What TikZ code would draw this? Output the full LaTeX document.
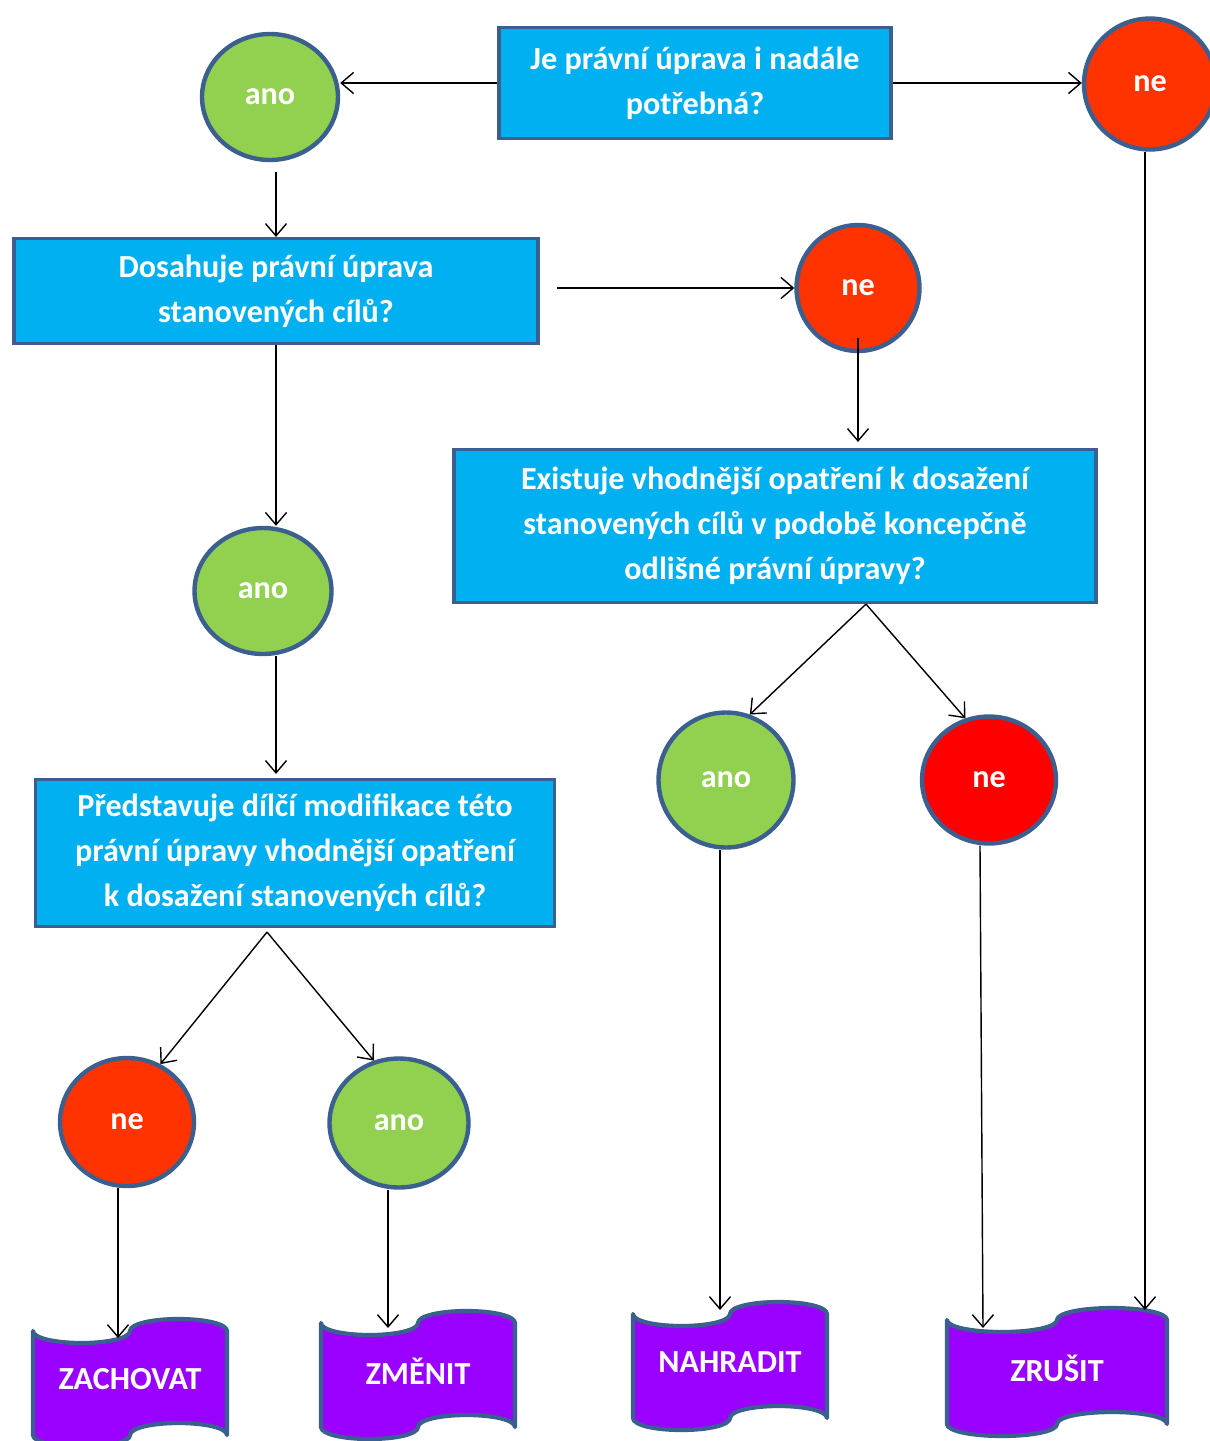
\documentclass[tikz,border=0pt]{standalone}
\usepackage{fontspec}
\setmainfont{Carlito}
\usetikzlibrary{arrows.meta,shapes.geometric,calc}
\definecolor{frame}{HTML}{3B5F8E}
\definecolor{boxblue}{HTML}{00B0F0}
\definecolor{anogreen}{HTML}{92D050}
\definecolor{neorange}{HTML}{FF3300}
\definecolor{nered}{HTML}{FF0000}
\definecolor{tapepurple}{HTML}{9900FF}
\newcommand\diafont{\fontsize{18.3}{25.5}\selectfont\bfseries}
\tikzset{
  question/.style={draw=frame,line width=1.8pt,fill=boxblue,text=white,
    align=center,inner sep=0pt,font=\diafont},
  answer/.style={ellipse,draw=frame,line width=2.5pt,text=white,
    inner sep=0pt,font=\diafont},
  ano circle/.style={answer,fill=anogreen},
  ne circle/.style={answer,fill=neorange},
  outcome shape/.style={draw=frame,line width=2.4pt,fill=tapepurple,line join=round},
  link/.style={-{Straight Barb[length=7pt,width=12pt]},line width=0.8pt},
  pics/outcome/.style 2 args={code={
    \path[outcome shape] (-#1,-52)
      .. controls (-#1,-45) and ({-0.776*#1},-40) .. ({-0.5*#1},-40)
      .. controls ({-0.224*#1},-40) and (0,-45) .. (0,-52)
      .. controls (0,-59) and ({0.224*#1},-64) .. ({0.5*#1},-64)
      .. controls ({0.776*#1},-64) and (#1,-59) .. (#1,-52)
      -- (#1,52)
      .. controls (#1,45) and ({0.776*#1},40) .. ({0.5*#1},40)
      .. controls ({0.224*#1},40) and (0,45) .. (0,52)
      .. controls (0,59) and ({-0.224*#1},64) .. ({-0.5*#1},64)
      .. controls ({-0.776*#1},64) and (-#1,59) .. (-#1,52)
      -- cycle;
    \node[text=white,font=\diafont] (-text) at (0,-4) {#2};
  }},
}

\begin{document}
\begin{tikzpicture}[x=0.02cm,y=-0.02cm]
\useasboundingbox (0,0) rectangle (1210,1441);

% questions
\node[question,minimum width=7.84cm,minimum height=2.22cm] (q1) at (695,83)
  {Je právní úprava i nadále\\potřebná?};
\node[question,minimum width=10.48cm,minimum height=2.1cm] (q2) at (276,291)
  {Dosahuje právní úprava\\stanovených cílů?};
\node[question,minimum width=12.84cm,minimum height=3.06cm] (q3) at (775,526)
  {Existuje vhodnější opatření k dosažení\\stanovených cílů v podobě koncepčně\\odlišné právní úpravy?};
\node[question,minimum width=10.38cm,minimum height=2.94cm] (q4) at (295,853)
  {Představuje dílčí modifikace této\\právní úpravy vhodnější opatření\\k dosažení stanovených cílů?};

% answers
\node[ano circle,minimum width=2.72cm,minimum height=2.52cm] (ano1) at (270,97) {ano};
\node[ne circle,minimum width=2.64cm,minimum height=2.62cm] (ne1) at (1150,84) {ne};
\node[ne circle,minimum width=2.46cm,minimum height=2.52cm] (ne2) at (858,288) {ne};
\node[ano circle,minimum width=2.74cm,minimum height=2.52cm] (ano2) at (263,591) {ano};
\node[ano circle,minimum width=2.7cm,minimum height=2.7cm] (ano3) at (726,780) {ano};
\node[ne circle,fill=nered,minimum width=2.68cm,minimum height=2.54cm] (ne3) at (989,780) {ne};
\node[ne circle,minimum width=2.68cm,minimum height=2.56cm] (ne4) at (127,1122) {ne};
\node[ano circle,minimum width=2.78cm,minimum height=2.58cm] (ano4) at (399,1123) {ano};

% outcomes
\foreach \name/\pos/\w/\txt in {zachovat/{130,1383}/97/ZACHOVAT,
  zmenit/{418,1375}/97/ZMĚNIT, nahradit/{730,1366}/97/NAHRADIT,
  zrusit/{1057,1372}/110/ZRUŠIT}
  \pic (\name) at (\pos) {outcome={\w}{\txt}};

\coordinate (zachovat in) at (118,1338);
\coordinate (zmenit in) at (388,1328);
\coordinate (nahradit in) at (720,1310);
\coordinate (zrusit in) at (983,1328);
\coordinate (zrusit in2) at (1145,1310);

% connectors
\draw[link] (q1.west) -- (q1.west -| ano1.east);
\draw[link] (q1.east) -- (q1.east -| ne1.west);
\draw[link] ($(ano1.south -| q2.north)+(0,10)$) -- (q2.north);
\draw[link] ($(q2.east |- ne2.west)+(17,0)$) -- (ne2.west);
\draw[link] (q2.south) -- (q2.south |- ano2.north);
\draw[link] ($(ne2.south)+(0,-15)$) -- ($(ne2.south |- q3.north)+(0,-6)$);
\draw[link] ($(q3.south)+(91,0)$) -- (ano3.70);
\draw[link] ($(q3.south)+(91,0)$) -- (ne3.111);
\draw[link] (ano2.south -| q2.south) -- ($(q4.north -| q2.south)+(0,-4)$);
\draw[link] ($(q4.south)+(-28,4)$) -- (ne4.60);
\draw[link] ($(q4.south)+(-28,4)$) -- (ano4.112);
\foreach \from/\to in {ne4/zachovat in, ano4/zmenit in, ano3/nahradit in, ne1/zrusit in2}
  \draw[link] (\from.south -| \to) -- (\to);
\draw[link] ($(ne3.south)+(-9,0)$) -- (zrusit in);
\end{tikzpicture}
\end{document}
